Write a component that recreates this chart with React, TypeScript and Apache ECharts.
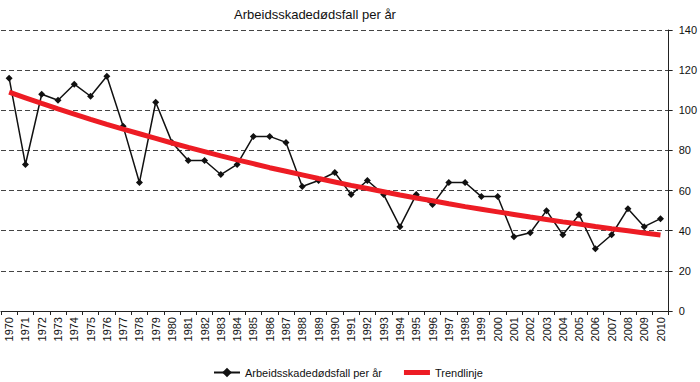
import React, { useEffect, useRef } from "react";
import * as echarts from "echarts";

const years: string[] = [
  "1970","1971","1972","1973","1974","1975","1976","1977","1978","1979",
  "1980","1981","1982","1983","1984","1985","1986","1987","1988","1989",
  "1990","1991","1992","1993","1994","1995","1996","1997","1998","1999",
  "2000","2001","2002","2003","2004","2005","2006","2007","2008","2009","2010",
];

const deaths: number[] = [
  116, 73, 108, 105, 113, 107, 117, 92, 64, 104,
  84, 75, 75, 68, 73, 87, 87, 84, 62, 65,
  69, 58, 65, 58, 42, 58, 53, 64, 64, 57,
  57, 37, 39, 50, 38, 48, 31, 38, 51, 42, 46,
];

const trend: number[] = [
  109, 106.2, 103.4, 100.7, 98.1, 95.5, 93.0, 90.6, 88.3, 86.0,
  83.7, 81.5, 79.4, 77.3, 75.3, 73.4, 71.4, 69.6, 67.8, 66.0,
  64.3, 62.6, 61.0, 59.4, 57.8, 56.3, 54.9, 53.4, 52.0, 50.7,
  49.4, 48.1, 46.8, 45.6, 44.4, 43.3, 42.1, 41.0, 40.0, 38.9, 37.9,
];

const titleText = "Arbeidsskadedødsfall per år";
const seriesName = "Arbeidsskadedødsfall per år";
const trendName = "Trendlinje";

export default function App() {
  const ref = useRef<HTMLDivElement>(null);
  useEffect(() => {
    if (!ref.current) return;
    const chart = echarts.init(ref.current, undefined, { renderer: "svg" });
    const font = "'Liberation Sans', Arial, sans-serif";
    chart.setOption({
      animation: false,
      backgroundColor: "#ffffff",
      textStyle: { fontFamily: font },
      title: {
        text: titleText,
        left: 310,
        textAlign: "center",
        top: 3,
        textStyle: { fontSize: 13, fontWeight: "normal", color: "#111", fontFamily: font },
      },
      legend: {
        left: 208,
        top: 362,
        itemWidth: 26,
        itemHeight: 12,
        itemGap: 22,
        textStyle: { fontSize: 11, color: "#111", fontFamily: font },
        data: [
          { name: seriesName },
          { name: trendName, icon: "path://M0,0 L26,0 L26,5 L0,5 Z" },
        ],
      },
      grid: { left: 1, right: 30, top: 30, bottom: 71, containLabel: false },
      xAxis: {
        type: "category",
        data: years,
        boundaryGap: true,
        axisLine: { show: true, lineStyle: { color: "#222", width: 1 } },
        axisTick: { show: true, alignWithLabel: false, length: 4, lineStyle: { color: "#222" } },
        axisLabel: { rotate: 90, fontSize: 11, color: "#111", margin: 6, interval: 0, fontFamily: font },
        splitLine: { show: false },
      },
      yAxis: {
        type: "value",
        position: "right",
        min: 0,
        max: 140,
        interval: 20,
        axisLine: { show: true, lineStyle: { color: "#222", width: 1 } },
        axisTick: { show: true, length: 4, lineStyle: { color: "#222" } },
        axisLabel: { fontSize: 11, color: "#111", margin: 10, fontFamily: font },
        splitLine: { show: true, lineStyle: { type: [5, 3], color: "#444", width: 1 } },
      },
      series: [
        {
          name: seriesName,
          type: "line",
          data: deaths,
          symbol: "diamond",
          symbolSize: 7,
          showAllSymbol: true,
          itemStyle: { color: "#111" },
          lineStyle: { color: "#111", width: 1.5 },
          z: 2,
        },
        {
          name: trendName,
          type: "line",
          data: trend,
          showSymbol: false,
          symbol: "none",
          itemStyle: { color: "#ed1c24" },
          lineStyle: { color: "#ed1c24", width: 5 },
          z: 3,
        },
      ],
    });
    return () => chart.dispose();
  }, []);
  return (
    <div
      ref={ref}
      style={{ position: "absolute", left: 0, top: 0, width: 700, height: 382 }}
    />
  );
}
